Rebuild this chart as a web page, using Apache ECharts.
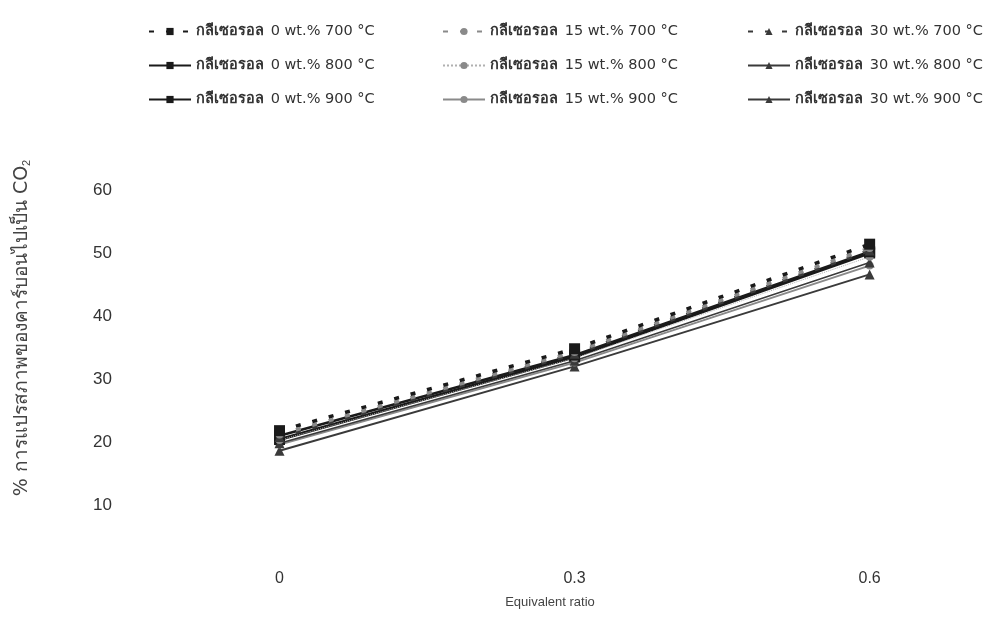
<!DOCTYPE html>
<html>
<head>
<meta charset="utf-8">
<script src="https://cdn.jsdelivr.net/npm/echarts@6/dist/echarts.min.js"></script>
<style>
  html, body { margin: 0; padding: 0; background: #fff; }
  #chart { width: 1007px; height: 621px; }
</style>
</head>
<body>
<div id="chart"></div>
<script>
// equivalent ratio (x)
const ratios = [0, 0.3, 0.6];
const xTicks = ["0", "0.3", "0.6"];

// % conversion of carbon to CO2
const g0_700 = [21.8, 34.8, 51.4];
const g15_700 = [21.2, 34.3, 50.8];
const g30_700 = [20.8, 34, 50.4];
const g0_800 = [21, 33.8, 50.2];
const g15_800 = [20.3, 33.3, 49.4];
const g30_800 = [19.8, 32.9, 48.5];
const g0_900 = [20.4, 33.5, 50];
const g15_900 = [19.6, 32.6, 48];
const g30_900 = [18.6, 32, 46.6];

const thaiWord = "กลีเซอรอล";
const seriesNames = [
  "0 wt.% 700 °C", "15 wt.% 700 °C", "30 wt.% 700 °C",
  "0 wt.% 800 °C", "15 wt.% 800 °C", "30 wt.% 800 °C",
  "0 wt.% 900 °C", "15 wt.% 900 °C", "30 wt.% 900 °C"
].map(function (s) { return thaiWord + " " + s; });
const seriesValues = [g0_700, g15_700, g30_700, g0_800, g15_800, g30_800, g0_900, g15_900, g30_900];

const symbols = ["rect", "circle", "triangle"];
const colors = ["#1a1a1a", "#8a8a8a", "#3a3a3a"];
const symbolSizes = [11, 8, 10];

function lineFor(temp, k) {
  if (temp === 0) return { type: [5, 12], width: 3.5, color: colors[k] };
  if (temp === 1) {
    if (k === 1) return { type: "dotted", width: 1, color: "#b0b0b0" };
    return { type: "solid", width: k === 0 ? 2.5 : 1.5, color: colors[k] };
  }
  return { type: "solid", width: k === 0 ? 3 : 2, color: colors[k] };
}

const series = seriesValues.map(function (vals, i) {
  const temp = Math.floor(i / 3);
  const k = i % 3;
  return {
    name: seriesNames[i],
    type: "line",
    data: vals.map(function (v, j) { return [ratios[j], v]; }),
    symbol: symbols[k],
    symbolSize: symbolSizes[k],
    itemStyle: { color: colors[k] },
    lineStyle: lineFor(temp, k),
    z: 10 - i
  };
});

function legendCol(k, left) {
  return {
    orient: "vertical",
    left: left,
    top: 19,
    itemGap: 19,
    itemWidth: 42,
    itemHeight: 9,
    data: [seriesNames[k], seriesNames[k + 3], seriesNames[k + 6]],
    formatter: function (name) {
      return "{th|" + thaiWord + "}  {n|" + name.slice(thaiWord.length + 1) + "}";
    },
    textStyle: {
      color: "#333",
      rich: {
        th: { fontSize: 14.5, fontWeight: "bold", color: "#333", fontFamily: "DejaVu Sans, Noto Sans, sans-serif" },
        n: { fontSize: 14.5, color: "#333", fontFamily: "DejaVu Sans, Noto Sans, sans-serif" }
      }
    }
  };
}

const chart = echarts.init(document.getElementById("chart"));
chart.setOption({
  backgroundColor: "#fff",
  animation: false,
  legend: [legendCol(0, 143), legendCol(1, 437), legendCol(2, 742)],
  grid: { left: 132, right: 39, top: 190, bottom: 53 },
  graphic: [{
    type: "text",
    x: 22,
    y: 328,
    rotation: Math.PI / 2,
    style: {
      text: "% การแปรสภาพของคาร์บอนไปเป็น CO{sub|2}",
      fontSize: 19,
      fill: "#444",
      fontFamily: "DejaVu Sans, Noto Sans, sans-serif",
      align: "center",
      verticalAlign: "middle",
      rich: { sub: { fontSize: 11, fill: "#444", padding: [9, 0, 0, 0] } }
    }
  }],
  xAxis: {
    type: "value",
    min: -0.15,
    max: 0.7,
    interval: 0.15,
    axisLine: { show: false },
    axisTick: { show: false },
    splitLine: { show: false },
    axisLabel: {
      fontSize: 16,
      color: "#333",
      margin: 3,
      fontFamily: "Liberation Sans, Arial, sans-serif",
      formatter: function (v) {
        const idx = ratios.findIndex(function (r) { return Math.abs(r - v) < 1e-6; });
        return idx >= 0 ? xTicks[idx] : "";
      }
    },
    name: "Equivalent ratio",
    nameLocation: "middle",
    nameGap: 28,
    nameTextStyle: { fontSize: 13, color: "#444", fontFamily: "Liberation Sans, Arial, sans-serif" }
  },
  yAxis: {
    type: "value",
    min: 0,
    max: 60,
    interval: 10,
    axisLine: { show: false },
    axisTick: { show: false },
    splitLine: { show: false },
    axisLabel: {
      fontSize: 17,
      color: "#333",
      margin: 20,
      fontFamily: "Liberation Sans, Arial, sans-serif",
      formatter: function (v) { return v === 0 ? "" : String(v); }
    }
  },
  series: series
});
</script>
</body>
</html>
